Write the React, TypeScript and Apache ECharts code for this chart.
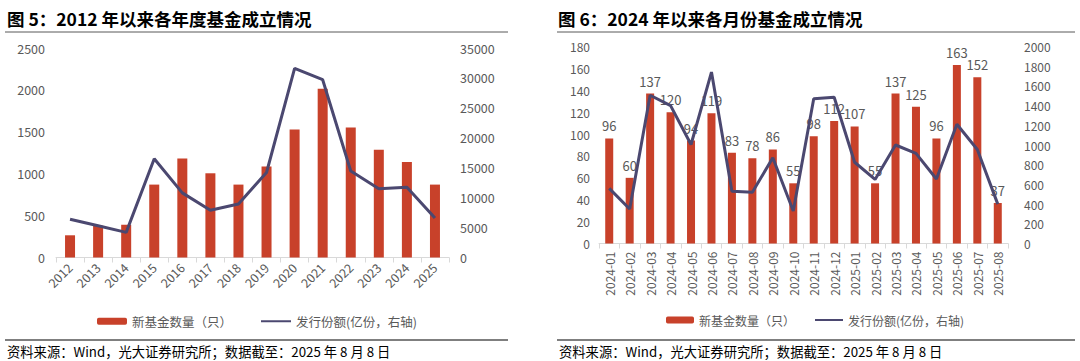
import React, { useEffect, useRef } from "react";
import * as echarts from "echarts";

const years = ["2012", "2013", "2014", "2015", "2016", "2017", "2018", "2019", "2020", "2021", "2022", "2023", "2024", "2025"];
const yearCount = [265, 380, 390, 870, 1180, 1005, 870, 1087, 1527, 2015, 1552, 1286, 1139, 870];
const yearShares = [6400, 5300, 4200, 16500, 10800, 7900, 8950, 14200, 31600, 29700, 14450, 11500, 11750, 6600];

const months = ["2024-01", "2024-02", "2024-03", "2024-04", "2024-05", "2024-06", "2024-07", "2024-08", "2024-09", "2024-10", "2024-11", "2024-12", "2025-01", "2025-02", "2025-03", "2025-04", "2025-05", "2025-06", "2025-07", "2025-08"];
const monthCount = [96, 60, 137, 120, 94, 119, 83, 78, 86, 55, 98, 112, 107, 55, 137, 125, 96, 163, 152, 37];
const monthShares = [560, 350, 1505, 1400, 1005, 1740, 530, 520, 870, 330, 1470, 1485, 825, 650, 1000, 915, 655, 1210, 955, 400];

const barName = "新基金数量（只）";
const lineName = "发行份额(亿份，右轴)";
const leftTitle = "图 5：2012 年以来各年度基金成立情况";
const rightTitle = "图 6：2024 年以来各月份基金成立情况";
const source = "资料来源：Wind，光大证券研究所；数据截至：2025 年 8 月 8 日";

const FONT = '"Noto Sans CJK SC", "Noto Sans", sans-serif';
const BAR = "#C8412A";
const LINE = "#4B4870";
const TXT = "#595959";
const AXIS = "#D9D9D9";

export default function App() {
  const ref = useRef<HTMLDivElement>(null);
  useEffect(() => {
    if (!ref.current) return;
    const chart = echarts.init(ref.current, null, { renderer: "svg" });
    const axisLabel = (size: number) => ({ color: TXT, fontSize: size, fontFamily: FONT });
    const valueAxis = (gridIndex: number, max: number, interval: number, size: number, margin: number) => ({
      type: "value",
      gridIndex,
      min: 0,
      max,
      interval,
      axisLine: { show: false },
      axisTick: { show: false },
      splitLine: { show: false },
      axisLabel: { ...axisLabel(size), margin, formatter: (v: number) => String(v) },
    });
    const legendData = [{ name: barName }, { name: lineName, itemStyle: { opacity: 0 } }];
    const option: any = {
      animation: false,
      textStyle: { fontFamily: FONT },
      grid: [
        { left: 56, top: 48, width: 393, height: 209.5, containLabel: false, outerBoundsMode: "none" },
        { left: 599, top: 46.5, width: 409, height: 197, containLabel: false, outerBoundsMode: "none" },
      ],
      xAxis: [
        {
          type: "category",
          gridIndex: 0,
          data: years,
          axisLine: { lineStyle: { color: AXIS, width: 1 } },
          axisTick: { show: true, length: 5, lineStyle: { color: AXIS } },
          axisLabel: { ...axisLabel(12.5), rotate: 45, margin: 8, interval: 0 },
        },
        {
          type: "category",
          gridIndex: 1,
          data: months,
          axisLine: { lineStyle: { color: AXIS, width: 1 } },
          axisTick: { show: true, length: 5, lineStyle: { color: AXIS } },
          axisLabel: { ...axisLabel(12), rotate: 90, margin: 8, interval: 0 },
        },
      ],
      yAxis: [
        valueAxis(0, 2500, 500, 12.5, 11),
        { ...valueAxis(0, 35000, 5000, 12.5, 11), position: "right" },
        valueAxis(1, 180, 20, 12, 9),
        { ...valueAxis(1, 2000, 200, 12, 16), position: "right" },
      ],
      legend: [
        {
          left: 92,
          top: 310,
          itemWidth: 30,
          itemHeight: 7,
          itemGap: 28,
          textStyle: { color: TXT, fontSize: 12.5, fontFamily: FONT },
          data: legendData,
        },
        {
          left: 661,
          top: 309,
          itemWidth: 28,
          itemHeight: 7,
          itemGap: 19,
          textStyle: { color: TXT, fontSize: 12, fontFamily: FONT },
          data: legendData,
        },
      ],
      series: [
        {
          name: barName,
          type: "bar",
          xAxisIndex: 0,
          yAxisIndex: 0,
          data: yearCount,
          barWidth: 10,
          itemStyle: { color: BAR },
        },
        {
          name: lineName,
          type: "line",
          xAxisIndex: 0,
          yAxisIndex: 1,
          data: yearShares,
          symbol: "none",
          z: 5,
          lineStyle: { color: LINE, width: 3 },
          itemStyle: { color: LINE },
        },
        {
          name: barName,
          type: "bar",
          xAxisIndex: 1,
          yAxisIndex: 2,
          data: monthCount,
          barWidth: 8,
          itemStyle: { color: BAR },
          label: { show: true, position: "top", distance: 6, color: TXT, fontSize: 13, fontFamily: FONT },
        },
        {
          name: lineName,
          type: "line",
          xAxisIndex: 1,
          yAxisIndex: 3,
          data: monthShares,
          symbol: "none",
          z: 5,
          lineStyle: { color: LINE, width: 3 },
          itemStyle: { color: LINE },
        },
      ],
      graphic: [
        { type: "text", x: 7, y: 18, style: { text: leftTitle, font: `bold 17.5px ${FONT}`, fill: "#000", verticalAlign: "middle" } },
        { type: "text", x: 558, y: 18, style: { text: rightTitle, font: `bold 17.5px ${FONT}`, fill: "#000", verticalAlign: "middle" } },
        { type: "line", shape: { x1: 5, y1: 32, x2: 508, y2: 32 }, style: { stroke: "#595959", lineWidth: 1 } },
        { type: "line", shape: { x1: 557, y1: 32, x2: 1075, y2: 32 }, style: { stroke: "#595959", lineWidth: 1 } },
        { type: "line", shape: { x1: 5, y1: 340, x2: 508, y2: 340 }, style: { stroke: "#000", lineWidth: 1.2 } },
        { type: "line", shape: { x1: 557, y1: 340, x2: 1075, y2: 340 }, style: { stroke: "#000", lineWidth: 1.2 } },
        { type: "text", x: 7, y: 351, style: { text: source, font: `13.3px ${FONT}`, fill: "#000", verticalAlign: "middle" } },
        { type: "text", x: 559, y: 351, style: { text: source, font: `13.3px ${FONT}`, fill: "#000", verticalAlign: "middle" } },
      ],
    };
    chart.setOption(option);
    return () => chart.dispose();
  }, []);
  return (
    <div
      ref={ref}
      style={{ position: "absolute", left: 0, top: 0, width: 1080, height: 361, background: "#fff" }}
    />
  );
}
